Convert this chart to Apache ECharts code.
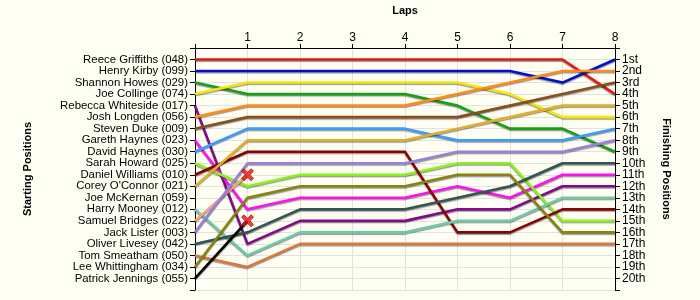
<!DOCTYPE html>
<html>
<head>
<meta charset="utf-8">
<script src="https://cdn.jsdelivr.net/npm/echarts@6/dist/echarts.min.js"></script>
<style>
  html, body { margin: 0; padding: 0; background: #fffef3; }
  #chart { width: 700px; height: 300px; }
</style>
</head>
<body>
<div id="chart"></div>
<script>
// Grid order at the start of the race (position 1..20)
const startingGrid = [
  'Reece Griffiths (048)', 'Henry Kirby (099)', 'Shannon Howes (029)', 'Joe Collinge (074)',
  'Rebecca Whiteside (017)', 'Josh Longden (056)', 'Steven Duke (009)', 'Gareth Haynes (023)',
  'David Haynes (030)', 'Sarah Howard (025)', 'Daniel Williams (010)', "Corey O'Connor (021)",
  'Joe McKernan (059)', 'Harry Mooney (012)', 'Samuel Bridges (022)', 'Jack Lister (003)',
  'Oliver Livesey (042)', 'Tom Smeatham (050)', 'Lee Whittingham (034)', 'Patrick Jennings (055)'
];

const finishLabels = ['1st','2nd','3rd','4th','5th','6th','7th','8th','9th','10th',
  '11th','12th','13th','14th','15th','16th','17th','18th','19th','20th'];

const laps = [0, 1, 2, 3, 4, 5, 6, 7, 8];

// Running position of each driver after every lap (lap 0 = grid slot); null = not running
const reeceGriffiths   = [1, 1, 1, 1, 1, 1, 1, 1, 4];
const henryKirby       = [2, 2, 2, 2, 2, 2, 2, 3, 1];
const shannonHowes     = [3, 4, 4, 4, 4, 5, 7, 7, 9];
const joeCollinge      = [4, 3, 3, 3, 3, 3, 4, 6, 6];
const rebeccaWhiteside = [5, 17, 15, 15, 15, 14, 14, 12, 12];
const joshLongden      = [6, 5, 5, 5, 5, 4, 3, 2, 2];
const stevenDuke       = [7, 6, 6, 6, 6, 6, 5, 4, 3];
const garethHaynes     = [8, 14, 13, 13, 13, 12, 13, 11, 11];
const davidHaynes      = [9, 7, 7, 7, 7, 8, 8, 8, 7];
const sarahHoward      = [10, 12, 11, 11, 11, 10, 10, 15, 15];
const danielWilliams   = [11, 9, 9, 9, 9, 16, 16, 14, 14];
const coreyOConnor     = [12, 8, 8, 8, 8, 7, 6, 5, 5];
const harryMooney      = [14, 18, 16, 16, 16, 15, 15, 13, 13];
const samuelBridges    = [15, 11, null, null, null, null, null, null, null];
const jackLister       = [16, 10, 10, 10, 10, 9, 9, 9, 8];
const oliverLivesey    = [17, 16, 14, 14, 14, 13, 12, 10, 10];
const tomSmeatham      = [18, 19, 17, 17, 17, 17, 17, 17, 17];
const leeWhittingham   = [19, 13, 12, 12, 12, 11, 11, 16, 16];
const patrickJennings  = [20, 15, null, null, null, null, null, null, null];

// Drivers that retired, with the lap on which they stopped
const retiredDrivers = ['Samuel Bridges (022)', 'Patrick Jennings (055)'];
const retiredOnLap = [1, 1];

const runners = [
  { name: 'Reece Griffiths (048)',   pos: reeceGriffiths,   color: '#e01b1b' },
  { name: 'Henry Kirby (099)',       pos: henryKirby,       color: '#0010d0' },
  { name: 'Shannon Howes (029)',     pos: shannonHowes,     color: '#16a016' },
  { name: 'Joe Collinge (074)',      pos: joeCollinge,      color: '#f5e50a' },
  { name: 'Rebecca Whiteside (017)', pos: rebeccaWhiteside, color: '#800c8c' },
  { name: 'Josh Longden (056)',      pos: joshLongden,      color: '#ff8a1c' },
  { name: 'Steven Duke (009)',       pos: stevenDuke,       color: '#86501c' },
  { name: 'Gareth Haynes (023)',     pos: garethHaynes,     color: '#ff10f0' },
  { name: 'David Haynes (030)',      pos: davidHaynes,      color: '#3a9cff' },
  { name: 'Sarah Howard (025)',      pos: sarahHoward,      color: '#8cf020' },
  { name: 'Daniel Williams (010)',   pos: danielWilliams,   color: '#880404' },
  { name: "Corey O'Connor (021)",    pos: coreyOConnor,     color: '#deb02c' },
  { name: 'Harry Mooney (012)',      pos: harryMooney,      color: '#6ccaa8' },
  { name: 'Samuel Bridges (022)',    pos: samuelBridges,    color: '#f8a080' },
  { name: 'Jack Lister (003)',       pos: jackLister,       color: '#9a80dc' },
  { name: 'Oliver Livesey (042)',    pos: oliverLivesey,    color: '#345454' },
  { name: 'Tom Smeatham (050)',      pos: tomSmeatham,      color: '#d8783c' },
  { name: 'Lee Whittingham (034)',   pos: leeWhittingham,   color: '#868410' },
  { name: 'Patrick Jennings (055)',  pos: patrickJennings,  color: '#000000' }
];

const FONT = 'Liberation Sans, Arial, sans-serif';
const crossPath = 'path://M2,0 L5,3 L8,0 L10,2 L7,5 L10,8 L8,10 L5,7 L2,10 L0,8 L3,5 L0,2 Z';

const series = runners.map(r => {
  const data = [];
  laps.forEach((lap, i) => { if (r.pos[i] != null) data.push([lap, r.pos[i]]); });
  return {
    name: r.name,
    type: 'line',
    data: data,
    yAxisIndex: 0,
    showSymbol: false,
    symbol: 'none',
    silent: true,
    lineStyle: {
      color: r.color,
      width: 2.6,
      shadowColor: 'rgba(0,0,0,0.4)',
      shadowBlur: 1,
      shadowOffsetY: 1.2
    },
    z: 3
  };
});

// Retirement markers
const retireData = retiredDrivers.map((nm, k) => {
  const r = runners.find(x => x.name === nm);
  const lap = retiredOnLap[k];
  return [lap, r.pos[laps.indexOf(lap)]];
});
series.push({
  name: 'Retired',
  type: 'scatter',
  data: retireData,
  symbol: crossPath,
  symbolSize: 12,
  itemStyle: { color: '#ee1010', borderColor: '#7a0000', borderWidth: 0.8 },
  z: 5,
  silent: true
});

const chart = echarts.init(document.getElementById('chart'), null, { renderer: 'canvas' });
chart.setOption({
  backgroundColor: '#fffef3',
  animation: false,
  grid: { left: 195, right: 85, top: 48, bottom: 10 },
  xAxis: {
    type: 'value',
    position: 'top',
    min: 0, max: 8, interval: 1,
    name: 'Laps',
    nameLocation: 'middle',
    nameGap: 32,
    nameTextStyle: { fontFamily: FONT, fontWeight: 'bold', fontSize: 11, color: '#000' },
    axisLine: { show: true, lineStyle: { color: '#000', width: 1 } },
    axisTick: { show: true, length: 4, lineStyle: { color: '#000' } },
    axisLabel: {
      fontFamily: FONT, fontSize: 12, color: '#000', margin: 4,
      formatter: v => (v === 0 ? '' : String(v))
    },
    splitLine: { show: true, lineStyle: { color: '#e2e2e2', width: 1 } }
  },
  yAxis: [
    {
      type: 'value',
      position: 'left',
      inverse: true,
      min: 0, max: 21, interval: 1,
      name: 'Starting Positions',
      nameLocation: 'middle',
      nameRotate: 90,
      nameGap: 162,
      nameTextStyle: { fontFamily: FONT, fontWeight: 'bold', fontSize: 11, color: '#000' },
      axisLine: { show: true, lineStyle: { color: '#000', width: 1 } },
      axisTick: { show: true, length: 5, lineStyle: { color: '#000' } },
      axisLabel: {
        fontFamily: FONT, fontSize: 11.4, color: '#000', margin: 7,
        formatter: v => (v >= 1 && v <= 20 ? startingGrid[v - 1] : '')
      },
      splitLine: { show: true, lineStyle: { color: '#e2e2e2', width: 1 } }
    },
    {
      type: 'value',
      position: 'right',
      inverse: true,
      min: 0, max: 21, interval: 1,
      name: 'Finishing Positions',
      nameLocation: 'middle',
      nameRotate: -90,
      nameGap: 46,
      nameTextStyle: { fontFamily: FONT, fontWeight: 'bold', fontSize: 11, color: '#000' },
      axisLine: { show: true, lineStyle: { color: '#000', width: 1 } },
      axisTick: { show: true, length: 5, lineStyle: { color: '#000' } },
      axisLabel: {
        fontFamily: FONT, fontSize: 12, color: '#000', margin: 7,
        formatter: v => (v >= 1 && v <= 20 ? finishLabels[v - 1] : '')
      },
      splitLine: { show: false }
    }
  ],
  series: series
});
</script>
</body>
</html>
